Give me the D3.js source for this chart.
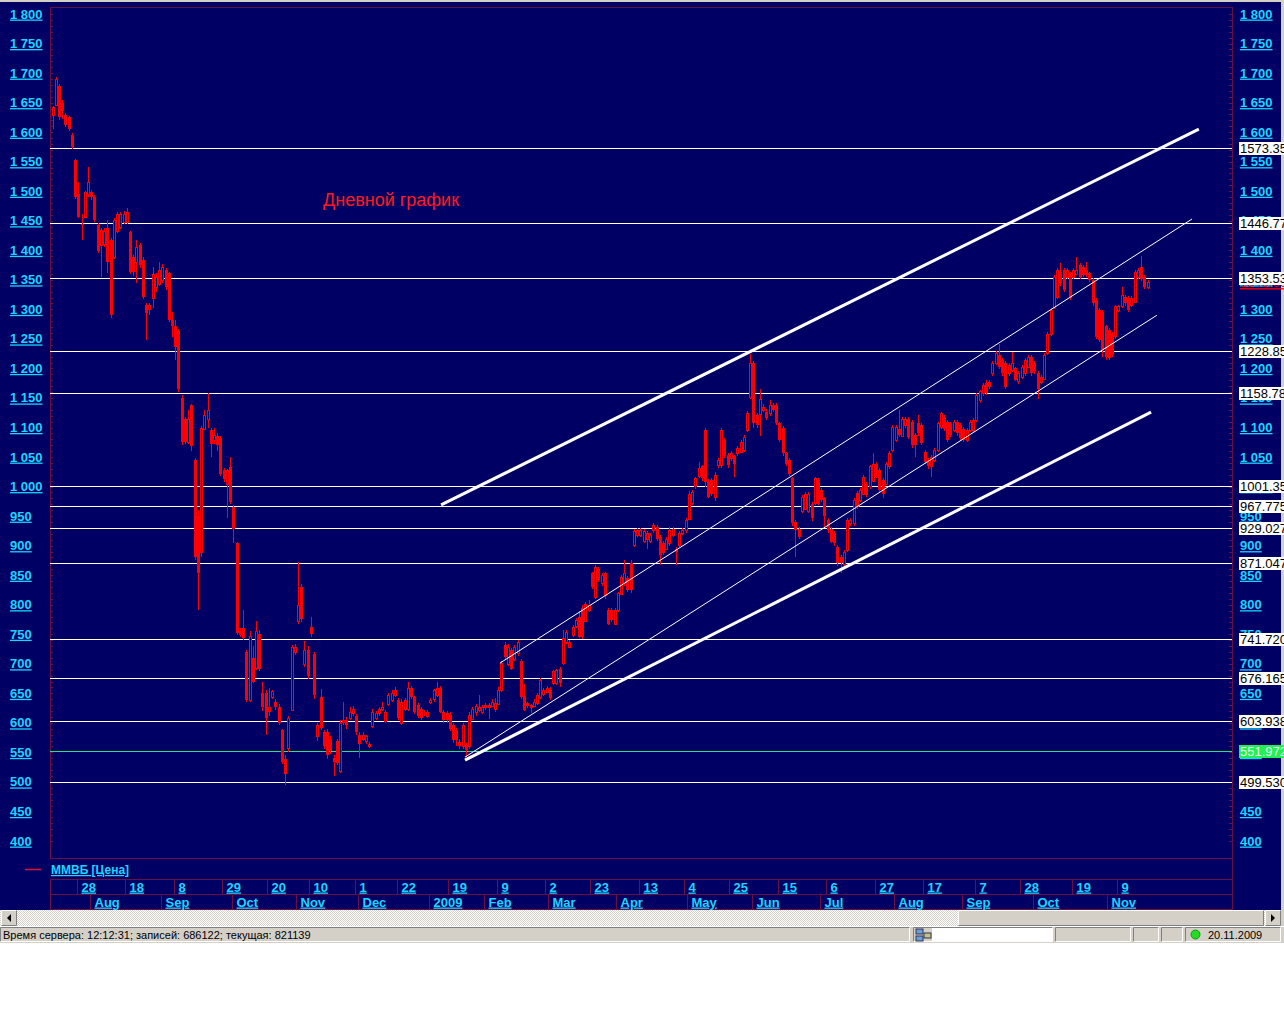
<!DOCTYPE html>
<html><head><meta charset="utf-8">
<script src="https://cdn.jsdelivr.net/npm/d3@7"></script>
<style>html,body{margin:0;padding:0;background:#fff;}svg{display:block}</style>
</head><body>
<script>
// ---- DATA ----
// daily candles [open, high, low, close], MICEX index, Jul 2008 - Nov 2009
const ohlc = [
[1629,1645,1606,1643],[1646,1693,1644,1690],[1678,1682,1620,1625],[1650,1655,1622,1635],[1629,1632,1608,1612],
[1626,1628,1602,1606],[1595,1598,1572,1575],[1553,1555,1486,1490],[1496,1516,1455,1457],[1445,1462,1417,1442],
[1457,1500,1455,1499],[1496,1541,1490,1516],[1499,1502,1485,1490],[1490,1493,1448,1451],[1443,1446,1395,1398],
[1409,1437,1355,1434],[1410,1438,1405,1432],[1438,1451,1361,1380],[1417,1420,1285,1290],[1389,1455,1385,1451],
[1434,1465,1430,1462],[1440,1465,1436,1462],[1448,1467,1445,1462],[1448,1471,1445,1465],[1431,1433,1360,1364],
[1389,1392,1356,1364],[1381,1418,1345,1406],[1409,1412,1370,1375],[1384,1388,1318,1321],[1307,1310,1248,1293],
[1300,1310,1290,1307],[1320,1372,1303,1360],[1338,1362,1330,1355],[1343,1380,1340,1366],[1350,1376,1345,1372],
[1366,1370,1333,1338],[1361,1364,1278,1282],[1282,1296,1254,1271],[1271,1282,1214,1237],[1263,1266,1160,1165],
[1150,1155,1070,1076],[1115,1118,1072,1076],[1076,1130,1072,1115],[1138,1140,1060,1068],[1045,1048,875,881],
[951,960,791,853],[889,1102,880,1099],[1099,1130,1095,1122],[1115,1158,1100,1130],[1095,1100,1050,1072],
[1080,1099,1072,1088],[1085,1090,1060,1070],[1083,1086,1018,1021],[1028,1031,1008,1013],[1005,1030,947,1028],
[1033,1050,970,974],[966,968,904,928],[904,906,748,752],[756,760,745,748],[760,791,740,744],
[720,723,635,639],[639,755,636,747],[710,730,668,670],[694,772,690,756],[750,758,688,692],
[651,670,620,627],[651,655,580,608],[620,659,612,627],[643,656,640,654],[635,640,622,627],
[627,632,596,600],[588,590,530,534],[538,545,495,514],[557,612,550,608],[623,732,620,729],
[720,733,715,729],[772,873,768,799],[830,835,770,776],[700,739,695,723],[723,730,675,680],
[762,780,745,750],[717,720,640,647],[577,600,570,596],[643,658,588,592],[584,588,556,561],
[584,590,538,545],[573,578,548,553],[541,545,510,534],[569,572,528,532],[518,605,515,600],
[600,635,596,604],[604,610,590,596],[608,627,604,619],[616,628,612,623],[612,615,580,584],
[580,584,541,565],[573,584,570,580],[569,580,565,577],[561,568,558,565],[596,624,592,619],
[608,620,604,616],[616,626,612,623],[623,635,620,627],[604,622,600,619],[631,650,628,647],
[639,655,636,651],[647,660,644,655],[639,642,604,608],[600,640,596,635],[623,642,620,639],
[623,670,620,659],[659,662,640,643],[643,646,615,619],[631,634,608,612],[623,626,604,608],
[619,622,612,616],[612,622,608,619],[635,642,632,639],[639,658,636,655],[647,670,644,659],
[659,662,616,619],[619,622,600,604],[616,620,600,605],[613,618,586,590],[596,600,566,571],
[588,592,560,571],[568,572,556,560],[560,600,556,596],[562,566,543,554],[560,618,556,613],
[607,627,604,624],[617,632,612,628],[622,647,618,627],[619,630,615,627],[627,633,622,630],
[627,633,607,630],[630,640,626,636],[622,642,618,633],[633,660,630,656],[656,705,652,701],
[731,737,708,712],[701,733,697,729],[723,726,689,692],[709,732,705,729],[718,740,714,737],
[704,708,640,644],[646,665,620,622],[633,636,625,628],[630,632,616,625],[630,640,626,636],
[633,650,630,647],[644,676,640,672],[650,659,646,656],[653,662,650,659],[656,660,638,642],
[667,690,664,687],[667,692,664,689],[692,695,660,667],[701,757,698,743],[737,758,733,754],
[729,740,726,737],[749,766,745,763],[763,778,760,774],[780,790,743,746],[794,800,742,746],
[774,805,770,802],[791,808,788,799],[853,856,826,830],[814,868,810,864],[861,864,838,842],
[836,853,832,850],[853,856,810,814],[791,795,765,768],[791,794,770,774],[768,794,765,791],
[791,822,788,819],[819,850,816,847],[836,876,832,853],[845,848,822,825],[870,876,820,825],
[901,928,898,924],[918,930,914,926],[918,930,914,926],[907,928,904,924],[910,924,895,921],
[907,922,904,918],[926,938,922,935],[932,935,908,912],[915,918,867,884],[904,908,884,887],
[895,915,892,912],[904,932,900,926],[918,932,914,929],[895,898,867,890],[901,924,898,921],
[921,930,918,926],[926,946,922,943],[946,992,943,988],[972,995,968,991],[1000,1017,996,1014],
[1017,1042,1014,1031],[1034,1037,1010,1014],[1096,1099,1000,1008],[1008,1012,980,983],[1011,1014,984,988],
[983,1024,975,1020],[1036,1048,1032,1045],[1036,1100,1032,1096],[1079,1082,1048,1051],[1054,1057,1032,1036],
[1048,1060,1044,1056],[1051,1054,1017,1039],[1056,1068,1052,1065],[1059,1079,1056,1076],[1062,1088,1058,1084],
[1096,1128,1092,1124],[1152,1225,1148,1209],[1209,1212,1100,1107],[1121,1124,1100,1104],[1124,1166,1085,1149],
[1130,1140,1126,1135],[1127,1132,1112,1116],[1124,1147,1120,1138],[1138,1141,1126,1130],[1138,1141,1104,1107],
[1107,1110,1075,1079],[1099,1102,1052,1056],[1056,1059,1035,1039],[1045,1048,1018,1022],[1014,1017,934,938],
[940,944,881,927],[929,932,911,915],[960,986,956,983],[963,991,960,988],[960,991,956,988],
[971,974,942,946],[971,1017,968,1014],[1011,1014,968,971],[994,997,974,977],[980,983,932,950],
[943,946,922,926],[929,932,904,907],[921,924,900,904],[898,901,866,870],[881,884,853,870],
[870,893,866,890],[893,946,889,943],[938,946,934,943],[938,980,934,977],[989,992,962,966],
[977,997,974,994],[989,1020,985,1017],[1005,1008,982,986],[1000,1037,996,1034],[1011,1056,1008,1039],
[1039,1042,1014,1017],[1028,1031,990,994],[1011,1014,980,988],[1005,1042,1002,1039],[1034,1060,1030,1056],
[1062,1104,1058,1101],[1079,1104,1076,1101],[1098,1130,1084,1087],[1087,1118,1084,1115],[1104,1118,1100,1115],
[1115,1118,1080,1084],[1110,1113,1066,1070],[1087,1090,1050,1070],[1107,1121,1086,1090],[1104,1107,1070,1073],
[1059,1062,1038,1042],[1045,1048,1030,1034],[1034,1053,1017,1050],[1045,1065,1042,1062],[1062,1110,1058,1107],
[1101,1127,1098,1124],[1118,1121,1094,1098],[1110,1113,1075,1079],[1107,1110,1084,1087],[1096,1113,1092,1110],
[1110,1113,1086,1090],[1104,1107,1078,1082],[1098,1101,1075,1079],[1079,1099,1075,1096],[1096,1113,1092,1110],
[1096,1116,1092,1113],[1113,1158,1110,1155],[1146,1164,1142,1161],[1158,1175,1154,1172],[1175,1180,1155,1158],
[1177,1180,1166,1169],[1192,1212,1188,1209],[1209,1229,1205,1226],[1223,1242,1199,1203],[1214,1217,1188,1192],
[1209,1212,1165,1169],[1192,1209,1188,1206],[1197,1228,1194,1209],[1200,1203,1178,1181],[1178,1195,1174,1192],
[1186,1206,1182,1203],[1192,1217,1188,1214],[1203,1223,1200,1220],[1220,1223,1188,1192],[1209,1212,1190,1195],
[1192,1195,1149,1166],[1178,1189,1174,1186],[1183,1226,1180,1223],[1226,1262,1222,1259],[1259,1302,1255,1299],
[1305,1358,1300,1355],[1321,1370,1318,1367],[1364,1378,1340,1344],[1367,1370,1329,1333],[1355,1370,1352,1367],
[1361,1364,1315,1319],[1355,1370,1352,1367],[1361,1389,1358,1367],[1375,1378,1352,1355],[1372,1375,1355,1358],
[1367,1381,1355,1358],[1361,1364,1346,1350],[1350,1353,1306,1310],[1316,1319,1250,1254],[1299,1302,1244,1248],
[1296,1299,1220,1231],[1271,1274,1215,1220],[1265,1268,1214,1217],[1259,1262,1219,1223],[1254,1308,1250,1305],
[1299,1308,1296,1305],[1305,1338,1302,1324],[1321,1324,1306,1310],[1319,1322,1295,1299],[1307,1322,1304,1319],
[1313,1367,1310,1364],[1355,1370,1352,1367],[1372,1390,1348,1352],[1355,1358,1334,1338],[1338,1349,1335,1346]
];
const yTickValues = [400,450,500,550,600,650,700,750,800,850,900,950,1000,1050,1100,1150,1200,1250,1300,1350,1400,1450,1500,1550,1600,1650,1700,1750,1800];
const levelValues = [1573.35,1446.77,1353.53,1228.85,1158.78,1001.35,967.775,929.027,871.047,741.72,676.165,603.938,551.972,499.53];
const levelLabels = ["1573.35","1446.77","1353.53","1228.85","1158.78","1001.35","967.775","929.027","871.047","741.720","676.165","603.938","551.972","499.530"];
const greenLevel = "551.972";
const dayTickIdx = [8,23,38,53,67,80,94,107,123,138,153,167,182,196,210,225,240,255,270,286,300,316,330];
const dayTickLabels = ["28","18","8","29","20","10","1","22","19","9","2","23","13","4","25","15","6","27","17","7","28","19","9"];
const monthTickIdx = [12,34,56,76,95,117,134,154,175,197,217,238,261,282,304,327];
const monthLabels = ["Aug","Sep","Oct","Nov","Dec","2009","Feb","Mar","Apr","May","Jun","Jul","Aug","Sep","Oct","Nov"];
// trend lines: [startIndex, startPrice] -> [endIndex, endPrice]
const trendStart = [[120.3,969],[138.5,701],[127.7,542],[127.7,537]];
const trendEnd   = [[354.9,1605],[352.8,1453],[341.9,1290],[340.1,1126]];
const trendThick = [true,false,false,true];
const titleText = "Дневной график";
const legendText = "ММВБ [Цена]";
const statusText = "Время сервера: 12:12:31; записей: 686122; текущая: 821139";
const statusDate = "20.11.2009";

// ---- CHART ----
const W = 1284, H = 1024;
const BG = "#000064", MAROON = "#6a1040", CYAN = "#19d6ff", RED = "#ff0000";
const svg = d3.select("body").append("svg").attr("width", W).attr("height", H);
const defs = svg.append("defs");
const pat = defs.append("pattern").attr("id","dither").attr("width",2).attr("height",2).attr("patternUnits","userSpaceOnUse");
pat.append("rect").attr("width",2).attr("height",2).attr("fill","#ffffff");
pat.append("rect").attr("width",1).attr("height",1).attr("fill","#d4d0c8");
pat.append("rect").attr("x",1).attr("y",1).attr("width",1).attr("height",1).attr("fill","#d4d0c8");

svg.append("rect").attr("width",W).attr("height",H).attr("fill","#fff");
svg.append("rect").attr("width",W).attr("height",910).attr("fill",BG);
svg.append("rect").attr("x",0).attr("y",0).attr("width",W).attr("height",2).attr("fill","#d4d0c8");
svg.append("rect").attr("x",1281).attr("y",0).attr("width",3).attr("height",926).attr("fill","#d4d0c8");

const x = d3.scaleLinear().domain([0, ohlc.length-1]).range([52.5, 1147.5]);
const y = d3.scaleLinear().domain([400, 1800]).range([841, 14]);
const PL = 50, PR = 1232, PT = 7, PB = 858;

// plot frame
svg.append("rect").attr("x",PL+0.5).attr("y",PT+0.5).attr("width",PR-PL).attr("height",PB-PT)
  .attr("fill","none").attr("stroke",MAROON);
const minor = d3.range(400, 1801, 10);
svg.append("g").selectAll("line").data(minor).join("line")
  .attr("x1",PL).attr("x2",PL+3).attr("y1",d=>Math.round(y(d))+0.5).attr("y2",d=>Math.round(y(d))+0.5)
  .attr("stroke",MAROON);
svg.append("g").selectAll("line").data(minor).join("line")
  .attr("x1",PR-3).attr("x2",PR).attr("y1",d=>Math.round(y(d))+0.5).attr("y2",d=>Math.round(y(d))+0.5)
  .attr("stroke",MAROON);

const fmt = v => v >= 1000 ? Math.floor(v/1000) + " " + String(v%1000).padStart(3,"0") : String(v);
function tickLabels(xpos){
  svg.append("g").selectAll("text").data(yTickValues).join("text")
    .attr("x", xpos).attr("y", d => y(d) + 4.5)
    .attr("fill", CYAN).attr("font-family","'Liberation Sans', Arial, sans-serif")
    .attr("font-weight","bold").attr("font-size","13px").attr("text-decoration","underline")
    .text(fmt);
}
tickLabels(10);
tickLabels(1240);

// horizontal levels
svg.append("g").attr("shape-rendering","crispEdges").selectAll("line").data(levelValues).join("line")
  .attr("x1",PL).attr("x2",PR)
  .attr("y1",d=>Math.round(y(d))+0.5).attr("y2",d=>Math.round(y(d))+0.5)
  .attr("stroke",(d,i)=>levelLabels[i]===greenLevel ? "#2ee07a" : "#ffffff").attr("stroke-width",1);

// candles
const cg = svg.append("g").attr("shape-rendering","crispEdges");
cg.selectAll("line").data(ohlc).join("line")
  .attr("x1",(d,i)=>Math.round(x(i))+0.5).attr("x2",(d,i)=>Math.round(x(i))+0.5)
  .attr("y1",d=>y(d[1])).attr("y2",d=>y(d[2])).attr("stroke",RED);
cg.selectAll("rect.dn").data(ohlc.map((d,i)=>({d,i})).filter(o=>o.d[3] < o.d[0])).join("rect").attr("class","dn")
  .attr("x",o=>Math.round(x(o.i))-1).attr("width",3)
  .attr("y",o=>y(o.d[0])).attr("height",o=>Math.max(1, y(o.d[3])-y(o.d[0])))
  .attr("fill",RED);
cg.selectAll("rect.up").data(ohlc.map((d,i)=>({d,i})).filter(o=>o.d[3] >= o.d[0])).join("rect").attr("class","up")
  .attr("x",o=>Math.round(x(o.i))-0.5).attr("width",2)
  .attr("y",o=>Math.round(y(o.d[3]))+0.5).attr("height",o=>Math.max(1, Math.round(y(o.d[0])-y(o.d[3]))))
  .attr("fill",BG).attr("stroke",RED);

// trend lines
svg.append("g").selectAll("line").data(trendStart).join("line")
  .attr("x1",d=>x(d[0])).attr("y1",d=>y(d[1]))
  .attr("x2",(d,i)=>x(trendEnd[i][0])).attr("y2",(d,i)=>y(trendEnd[i][1]))
  .attr("stroke","#ffffff").attr("stroke-width",(d,i)=>trendThick[i]?3:1);

// title
svg.append("text").attr("x",323).attr("y",205.5).attr("fill","#ff1a1a")
  .attr("font-family","'Liberation Sans', Arial, sans-serif").attr("font-size","18px").text(titleText);

// current price label (red, mostly hidden behind the level box)
const last = ohlc[ohlc.length-1][3];
svg.append("text").attr("x",1240).attr("y",y(last)+5).attr("fill",RED)
  .attr("font-family","'Liberation Sans', Arial, sans-serif").attr("font-size","13px")
  .attr("text-decoration","underline").text(last.toFixed(2));

// level value boxes
const lb = svg.append("g");
levelValues.forEach((v,i)=>{
  const yy = Math.round(y(v));
  const green = levelLabels[i]===greenLevel;
  lb.append("rect").attr("x",1239).attr("y",yy-6).attr("width",60).attr("height",13)
    .attr("fill", green ? "#22ee55" : "#ffffff");
  lb.append("text").attr("x",1240).attr("y",yy+5).attr("fill", green ? "#e8ffe8" : "#000")
    .attr("font-family","'Liberation Sans', Arial, sans-serif").attr("font-size","13px")
    .text(levelLabels[i]);
});

// legend row
svg.append("line").attr("x1",25).attr("x2",41).attr("y1",869.5).attr("y2",869.5).attr("stroke","#e0103a").attr("stroke-width",1.5);
svg.append("text").attr("x",51).attr("y",874).attr("fill",CYAN)
  .attr("font-family","'Liberation Sans', Arial, sans-serif").attr("font-weight","bold").attr("font-size","12px")
  .attr("text-decoration","underline").text(legendText);

// date axis rows
[879.5, 894.5, 909.5].forEach(yy=>{
  svg.append("line").attr("x1",PL).attr("x2",PR).attr("y1",yy).attr("y2",yy).attr("stroke",MAROON);
});
svg.append("line").attr("x1",PL+0.5).attr("x2",PL+0.5).attr("y1",879).attr("y2",910).attr("stroke",MAROON);
svg.append("line").attr("x1",PR+0.5).attr("x2",PR+0.5).attr("y1",858).attr("y2",910).attr("stroke",MAROON);
const dayX = i => Math.round(x(i) - 1.6) + 0.5;
svg.append("g").selectAll("line").data(dayTickIdx).join("line")
  .attr("x1",dayX).attr("x2",dayX).attr("y1",879).attr("y2",895).attr("stroke",MAROON);
svg.append("g").selectAll("line").data(monthTickIdx).join("line")
  .attr("x1",dayX).attr("x2",dayX).attr("y1",894).attr("y2",910).attr("stroke",MAROON);
const axisFont = sel => sel.attr("fill",CYAN).attr("font-family","'Liberation Sans', Arial, sans-serif")
  .attr("font-weight","bold").attr("font-size","13px").attr("text-decoration","underline");
svg.append("g").selectAll("text").data(dayTickIdx).join("text")
  .attr("x",d=>dayX(d)+4).attr("y",891.5).text((d,i)=>dayTickLabels[i]).call(axisFont);
svg.append("g").selectAll("text").data(monthTickIdx).join("text")
  .attr("x",d=>dayX(d)+4).attr("y",906.5).text((d,i)=>monthLabels[i]).call(axisFont);

// horizontal scrollbar
svg.append("rect").attr("x",0).attr("y",910).attr("width",1281).attr("height",16).attr("fill","url(#dither)");
function btn(x0, w){
  svg.append("rect").attr("x",x0).attr("y",910).attr("width",w).attr("height",16).attr("fill","#d4d0c8");
  svg.append("path").attr("d",`M${x0+0.5},925.5V910.5H${x0+w-0.5}`).attr("stroke","#fff").attr("fill","none");
  svg.append("path").attr("d",`M${x0+0.5},925.5H${x0+w-0.5}V910.5`).attr("stroke","#808080").attr("fill","none");
}
btn(1,16); btn(958,306); btn(1265,16);
svg.append("path").attr("d","M7,918 L11,914 L11,922 Z").attr("fill","#000");
svg.append("path").attr("d","M1275,918 L1271,914 L1271,922 Z").attr("fill","#000");

// status bar
svg.append("rect").attr("x",0).attr("y",926).attr("width",W).attr("height",17).attr("fill","#d4d0c8");
svg.append("line").attr("x1",0).attr("x2",W).attr("y1",926.5).attr("y2",926.5).attr("stroke","#ffffff");
[[0,910],[913,140],[1055,76],[1133,26],[1161,22],[1185,96]].forEach(([px,pw])=>{
  svg.append("path").attr("d",`M${px+0.5},941.5V927.5H${px+pw-0.5}`).attr("stroke","#808080").attr("fill","none");
  svg.append("path").attr("d",`M${px+0.5},941.5H${px+pw-0.5}V927.5`).attr("stroke","#ffffff").attr("fill","none");
});
svg.append("rect").attr("x",932).attr("y",928).attr("width",120).attr("height",13).attr("fill","#fff");
svg.append("rect").attr("x",916).attr("y",929).attr("width",7).attr("height",5).attr("fill","#6aa0d8").attr("stroke","#335");
svg.append("rect").attr("x",916).attr("y",936).attr("width",7).attr("height",5).attr("fill","#6aa0d8").attr("stroke","#335");
svg.append("rect").attr("x",924).attr("y",933).attr("width",7).attr("height",5).attr("fill","#c8c080").attr("stroke","#335");
svg.append("text").attr("x",3).attr("y",938.5).attr("fill","#000")
  .attr("font-family","'Liberation Sans', Arial, sans-serif").attr("font-size","11px").text(statusText);
svg.append("circle").attr("cx",1195.5).attr("cy",934.5).attr("r",4.5).attr("fill","#22dd22").attr("stroke","#119911");
svg.append("text").attr("x",1208).attr("y",938.5).attr("fill","#000")
  .attr("font-family","'Liberation Sans', Arial, sans-serif").attr("font-size","11px").text(statusDate);
</script>
</body></html>
